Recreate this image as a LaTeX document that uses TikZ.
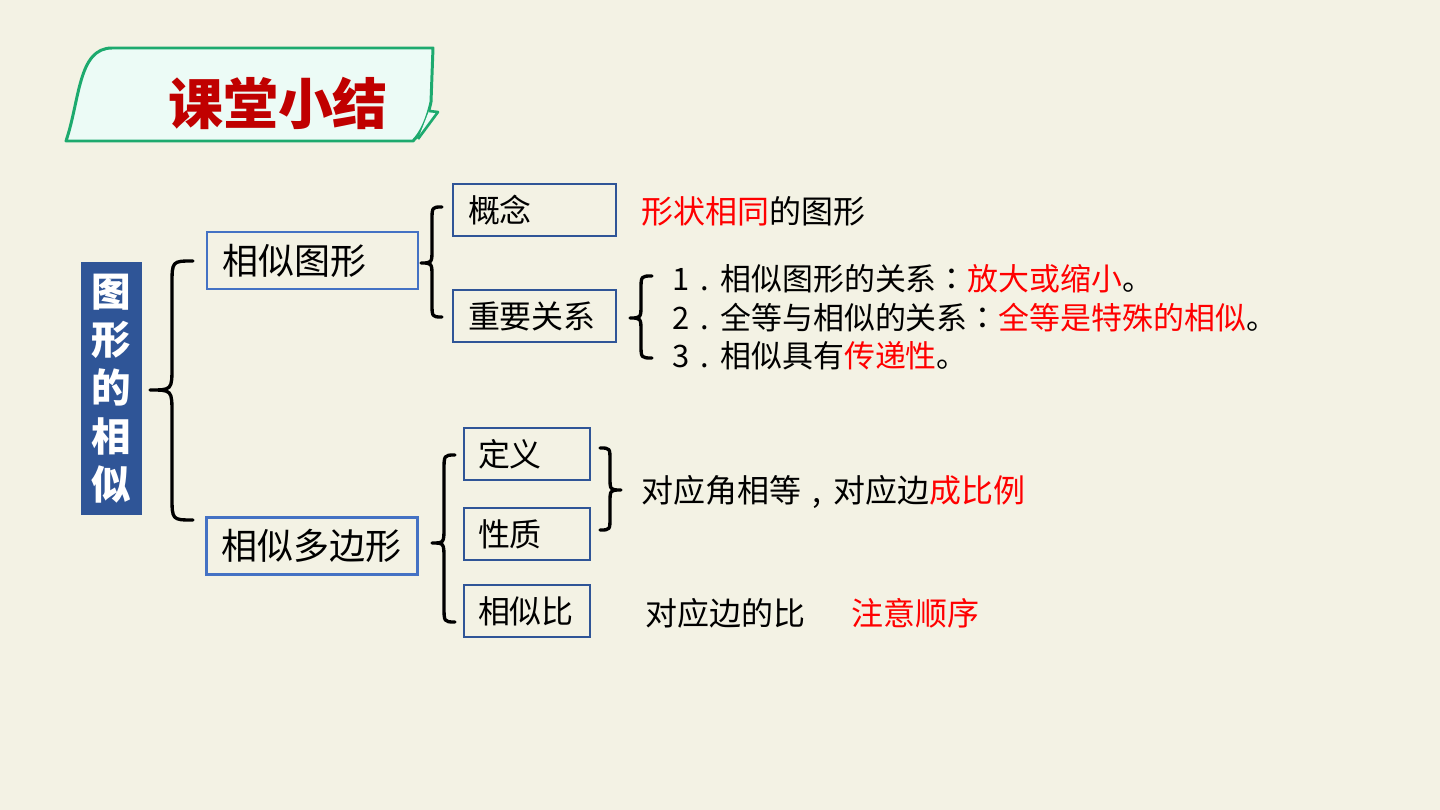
\documentclass[tikz,border=0pt]{standalone}
\usepackage{fontspec}
\setmainfont{Noto Sans CJK SC}
\newfontfamily\tcfont{Noto Sans CJK TC}
\usetikzlibrary{positioning}

\definecolor{bgcream}{RGB}{243,242,228}
\definecolor{bannerfill}{RGB}{236,251,246}
\definecolor{bannergreen}{RGB}{29,170,110}
\definecolor{titlered}{RGB}{192,0,0}
\definecolor{keyred}{RGB}{255,0,0}
\definecolor{darkblue}{RGB}{47,85,151}
\definecolor{midblue}{RGB}{68,114,196}

% centred full-width punctuation
\newcommand{\ccolon}{{\tcfont ：}}
\newcommand{\cmark}[1]{\makebox[1em][c]{#1}}

% curly brace: ends x, spine x, tip x, top y, tip y, bottom y, radius
\newcommand{\bracel}[7]{%
  \draw[brace] (#1,#4) .. controls (#2,#4) .. (#2,#4+#7) -- (#2,#5-#7)
    .. controls (#2,#5) .. (#3,#5) .. controls (#2,#5) .. (#2,#5+#7)
    -- (#2,#6-#7) .. controls (#2,#6) .. (#1,#6);}

\begin{document}
\begin{tikzpicture}[x=0.02cm, y=-0.02cm,
    brace/.style={line width=1.9pt, line join=round, line cap=round},
    lvone/.style={draw=midblue, line width=1.6pt, inner xsep=0.3cm, inner ysep=0pt,
      text width=3.62cm, minimum height=1.14cm, align=left,
      font=\fontsize{20.5pt}{24pt}\selectfont},
    lvtwo/.style={draw=darkblue, line width=1.6pt, inner xsep=0.3cm, inner ysep=0pt,
      text width=2.66cm, minimum height=1.04cm, align=left,
      font=\fontsize{18.2pt}{22pt}\selectfont},
    lvsub/.style={lvtwo, inner xsep=0.28cm, text width=1.96cm},
    txt/.style={anchor=west, inner sep=0pt, font=\fontsize{18.2pt}{22pt}\selectfont}]

    % background
    \fill[bgcream] (0,0) rectangle (1440,810);

    % --- TITLE BANNER ---
    \draw[bannergreen, fill=bannerfill, line width=1.7pt, line join=round]
      (66,141) .. controls (80,100) and (78,48) .. (112,48) -- (433,48)
      -- (431,102) .. controls (427,120) and (421,133) .. (413,141) -- cycle;
    \draw[bannergreen, fill=bannerfill, line width=1.5pt, line join=round]
      (429,111) -- (438,112) -- (418,139);
    \node[font=\fontsize{31.3pt}{36pt}\selectfont\bfseries, text=titlered]
      (title) at (278,103) {课堂小结};

    % --- ROOT ---
    \node[fill=darkblue, text=white, minimum width=1.22cm, minimum height=5.06cm,
      align=center, inner sep=0pt, font=\fontsize{22.5pt}{27.5pt}\selectfont\bfseries]
      (root) at (111.5,388.5) {图\\形\\的\\相\\似};
    \bracel{193}{172}{150}{261}{390}{520}{24}

    % --- FIRST BRANCH ---
    \node[lvone] (figs) at (312.5,260.5) {相似图形};
    \bracel{442}{432}{421}{207}{263}{317}{14}
    \node[lvtwo] (concept) at (534.5,210) {概念};
    \node[lvtwo] (relation) at (534.5,316) {重要关系};
    \node[txt] (conceptdef) at (641,211) {\textcolor{keyred}{形状相同}的图形};

    \bracel{652}{641}{630}{276}{318}{358}{14}
    \node[txt, font=\fontsize{17.6pt}{21pt}\selectfont] (relone) at (672,279)
      {1\cmark{.}相似图形的关系\ccolon\textcolor{keyred}{放大或缩小}。};
    \node[txt, font=\fontsize{17.6pt}{21pt}\selectfont] (reltwo) at (672,318)
      {2\cmark{.}全等与相似的关系\ccolon\textcolor{keyred}{全等是特殊的相似}。};
    \node[txt, font=\fontsize{17.6pt}{21pt}\selectfont] (relthree) at (672,356)
      {3\cmark{.}相似具有\textcolor{keyred}{传递性}。};

    % --- SECOND BRANCH ---
    \node[lvone] (polys) at (312,546) {相似多边形};
    \bracel{455}{444}{432}{455}{543}{622}{16}
    \node[lvsub] (defn) at (527,454) {定义};
    \node[lvsub] (prop) at (527,534) {性质};
    \node[lvsub] (ratio) at (527,611) {相似比};

    \bracel{600}{610}{621}{448}{490}{530}{13}
    \node[txt] (propdef) at (641,492) {对应角相等\cmark{,}对应边\textcolor{keyred}{成比例}};
    \node[txt] (ratiodef) at (645,613) {对应边的比};
    \node[txt, text=keyred] (rationote) at (851,613) {注意顺序};

\end{tikzpicture}
\end{document}
